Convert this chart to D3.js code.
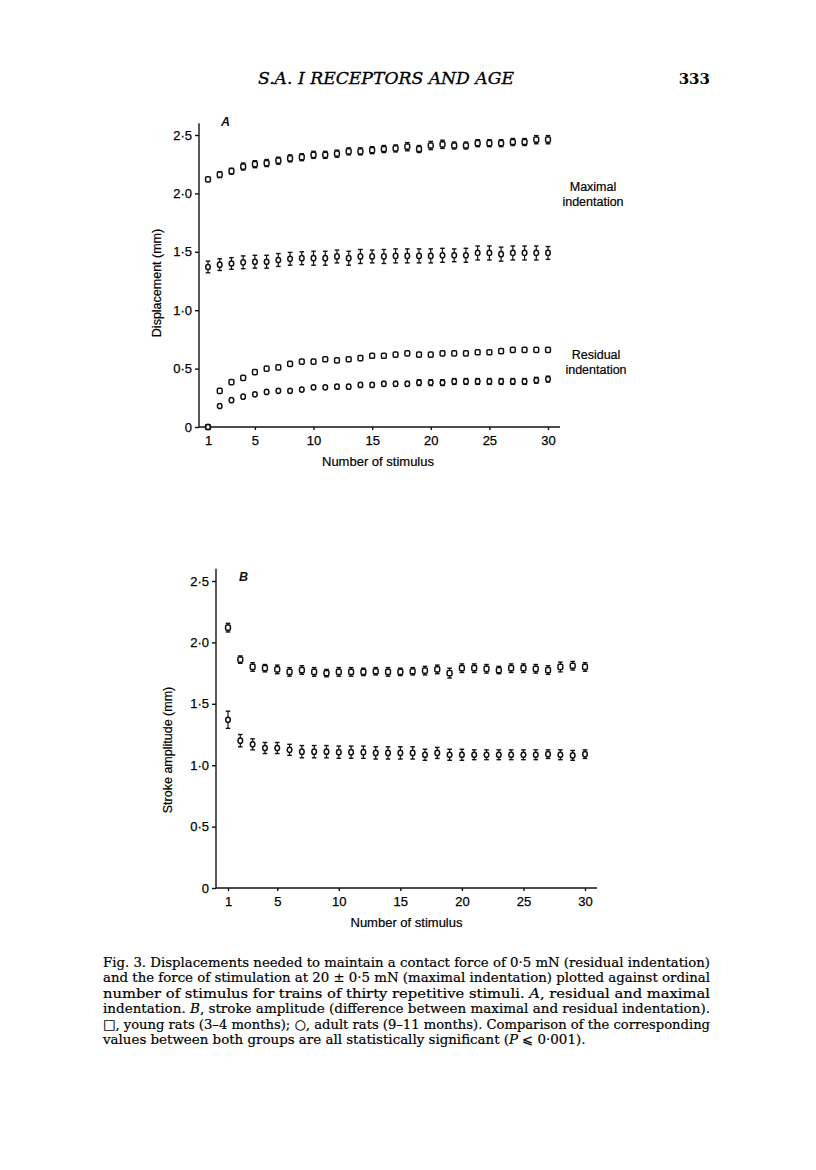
<!DOCTYPE html>
<html><head><meta charset="utf-8">
<script src="https://cdn.jsdelivr.net/npm/d3@7"></script>
<style>body{margin:0;background:#fff}svg{display:block}</style>
</head><body>
<script>
const stimulus = [1,2,3,4,5,6,7,8,9,10,11,12,13,14,15,16,17,18,19,20,21,22,23,24,25,26,27,28,29,30];
const xTicks = [1,5,10,15,20,25,30];
const yTicks = [0,0.5,1.0,1.5,2.0,2.5];
const yTickLabels = ["0","0·5","1·0","1·5","2·0","2·5"];

// Panel A: maximal indentation
const maxYoung = [2.12,2.16,2.19,2.23,2.25,2.26,2.28,2.30,2.31,2.33,2.33,2.34,2.36,2.36,2.37,2.38,2.385,2.40,2.38,2.41,2.42,2.41,2.41,2.43,2.43,2.43,2.44,2.44,2.46,2.46];
const maxYoungErr = [0.015,0.025,0.025,0.03,0.03,0.03,0.03,0.03,0.03,0.03,0.03,0.03,0.03,0.03,0.03,0.03,0.03,0.035,0.03,0.035,0.035,0.03,0.03,0.03,0.03,0.03,0.03,0.03,0.035,0.035];
const maxAdult = [1.37,1.39,1.40,1.41,1.415,1.415,1.43,1.44,1.445,1.445,1.445,1.46,1.445,1.46,1.46,1.46,1.465,1.465,1.465,1.465,1.47,1.47,1.47,1.49,1.49,1.48,1.49,1.49,1.49,1.49];
const maxAdultErr = [0.05,0.05,0.05,0.055,0.055,0.055,0.055,0.055,0.055,0.06,0.06,0.055,0.06,0.06,0.055,0.06,0.06,0.06,0.06,0.06,0.06,0.055,0.06,0.06,0.06,0.06,0.06,0.06,0.06,0.055];
// Panel A: residual indentation
const resYoung = [0,0.31,0.385,0.42,0.47,0.50,0.51,0.54,0.56,0.56,0.58,0.57,0.58,0.59,0.61,0.61,0.62,0.63,0.62,0.62,0.63,0.63,0.63,0.64,0.64,0.65,0.66,0.66,0.66,0.66];
const resYoungErr = [0,0.01,0.01,0.01,0.01,0.012,0.012,0.012,0.012,0.012,0.015,0.015,0.015,0.015,0.015,0.015,0.015,0.015,0.015,0.015,0.015,0.015,0.015,0.015,0.015,0.018,0.018,0.018,0.018,0.018];
const resAdult = [0,0.18,0.23,0.26,0.28,0.30,0.31,0.31,0.32,0.34,0.34,0.345,0.345,0.36,0.36,0.37,0.37,0.37,0.38,0.38,0.38,0.39,0.39,0.39,0.39,0.39,0.39,0.39,0.40,0.41];
const resAdultErr = [0,0.01,0.01,0.01,0.01,0.01,0.012,0.012,0.012,0.012,0.012,0.015,0.015,0.018,0.018,0.02,0.02,0.02,0.025,0.025,0.025,0.025,0.025,0.025,0.025,0.025,0.025,0.025,0.025,0.025];
// Panel B: stroke amplitude
const strokeYoung = [2.12,1.86,1.80,1.79,1.78,1.76,1.775,1.76,1.75,1.76,1.76,1.76,1.765,1.76,1.76,1.765,1.77,1.78,1.75,1.79,1.79,1.785,1.775,1.79,1.79,1.785,1.775,1.80,1.81,1.80];
const strokeYoungErr = [0.035,0.03,0.035,0.03,0.035,0.035,0.035,0.035,0.03,0.035,0.035,0.03,0.03,0.035,0.03,0.03,0.035,0.035,0.04,0.035,0.035,0.035,0.03,0.035,0.035,0.035,0.035,0.04,0.035,0.035];
const strokeAdult = [1.37,1.20,1.17,1.14,1.14,1.125,1.11,1.11,1.11,1.106,1.106,1.106,1.10,1.10,1.10,1.10,1.085,1.10,1.085,1.085,1.085,1.085,1.085,1.085,1.085,1.085,1.09,1.085,1.08,1.09];
const strokeAdultErr = [0.07,0.05,0.045,0.045,0.045,0.045,0.05,0.05,0.05,0.05,0.05,0.05,0.05,0.05,0.05,0.05,0.045,0.045,0.045,0.045,0.04,0.04,0.04,0.04,0.04,0.04,0.035,0.04,0.04,0.035];

const captionLines = [
  [["Fig. 3.  Displacements needed to maintain a contact force of 0·5 mN (residual indentation)",""]],
  [["and the force of stimulation at 20 ± 0·5 mN (maximal indentation) plotted against ordinal",""]],
  [["number of stimulus for trains of thirty repetitive stimuli. ",""],["A","i"],[", residual and maximal",""]],
  [["indentation. ",""],["B","i"],[", stroke amplitude (difference between maximal and residual indentation).",""]],
  [["□, young rats (3–4 months); ○, adult rats (9–11 months). Comparison of the corresponding",""]],
  [["values between both groups are all statistically significant (",""],["P","i"],[" ⩽ 0·001).",""]]
];

const W = 816, H = 1170;
const svg = d3.select("body").append("svg").attr("width", W).attr("height", H);
const sans = "'Liberation Sans', Arial, sans-serif";
const serif = "'DejaVu Serif', 'Liberation Serif', serif";

// Header
svg.append("text").attr("x", 386).attr("y", 84).attr("text-anchor","middle")
  .attr("font-family", serif).attr("font-style","italic").attr("font-size", 16)
  .attr("fill","#000").attr("stroke","#000").attr("stroke-width",0.3)
  .attr("textLength", 256).attr("lengthAdjust","spacingAndGlyphs")
  .text("S.A. I RECEPTORS AND AGE");
svg.append("text").attr("x", 710).attr("y", 84).attr("text-anchor","end")
  .attr("font-family", serif).attr("font-weight","bold").attr("font-size", 15)
  .text("333");

function panel(cfg) {
  const x = d3.scaleLinear().domain([1,30]).range([cfg.x1, cfg.x30]);
  const y = d3.scaleLinear().domain([0,2.5]).range([cfg.y0, cfg.y25]);
  const g = svg.append("g");
  // y axis
  const yAxis = d3.axisLeft(y).tickValues(yTicks).tickSize(4).tickFormat((d,i)=>yTickLabels[i]);
  const ga = g.append("g").attr("transform",`translate(${cfg.ax},0)`).call(yAxis);
  ga.select(".domain").attr("d", `M0,${y(2.6)}V${cfg.y0}`);
  // x axis
  const xAxis = d3.axisBottom(x).tickValues(xTicks).tickSize(3).tickPadding(6);
  const gx = g.append("g").attr("transform",`translate(0,${cfg.y0})`).call(xAxis);
  gx.select(".domain").attr("d", `M${cfg.ax},0H${cfg.axEnd}`);
  [ga,gx].forEach(a=>{
    a.selectAll("text").attr("font-family", sans).attr("font-size", 13).attr("fill","#000")
      .attr("stroke","#000").attr("stroke-width",0.25);
    a.selectAll("line,path").attr("stroke","#111").attr("stroke-width",1.4);
  });
  ga.selectAll("text").attr("x", -7);
  // labels
  g.append("text").attr("transform",`translate(${cfg.ylx},${cfg.yly}) rotate(-90)`)
    .attr("text-anchor","middle").attr("font-family",sans).attr("font-size",12.5).attr("fill","#000")
    .attr("stroke","#000").attr("stroke-width",0.2)
    .text(cfg.ylabel);
  g.append("text").attr("x", (cfg.x1+cfg.x30)/2).attr("y", cfg.y0+39).attr("text-anchor","middle")
    .attr("font-family",sans).attr("font-size",13).attr("fill","#000")
    .attr("stroke","#000").attr("stroke-width",0.2).text("Number of stimulus");
  g.append("text").attr("x", cfg.lx).attr("y", cfg.ly).attr("font-family",sans).attr("font-style","italic")
    .attr("font-weight","bold").attr("font-size",12.5).attr("fill","#111").text(cfg.letter);
  // series
  cfg.series.forEach(s => {
    const sg = g.append("g");
    stimulus.forEach((st,i) => {
      const v = s.values[i], e = s.err[i];
      const cx = x(st), cy = y(v);
      if (e > 0) {
        sg.append("line").attr("x1",cx).attr("x2",cx).attr("y1",y(v+e)).attr("y2",y(v-e))
          .attr("stroke","#111").attr("stroke-width",1.2);
        [v+e, v-e].forEach(t => sg.append("line").attr("x1",cx-2.3).attr("x2",cx+2.3)
          .attr("y1",y(t)).attr("y2",y(t)).attr("stroke","#111").attr("stroke-width",1.4));
      }
      if (s.shape === "square") {
        sg.append("rect").attr("x",cx-2.4).attr("y",cy-2.6).attr("width",4.8).attr("height",5.2)
          .attr("rx",1.2).attr("fill","#fff").attr("stroke","#111").attr("stroke-width",1.5);
      } else {
        sg.append("ellipse").attr("cx",cx).attr("cy",cy).attr("rx",2.3).attr("ry",2.6)
          .attr("fill","#fff").attr("stroke","#111").attr("stroke-width",1.5);
      }
    });
  });
  (cfg.notes||[]).forEach(n => {
    g.append("text").attr("x", n.x).attr("y", n.y).attr("text-anchor","middle")
      .attr("font-family",sans).attr("font-size",12.5).attr("fill","#000")
      .attr("stroke","#000").attr("stroke-width",0.2).text(n.t);
  });
}

panel({
  ax:199, axEnd:560, x1:208, x30:548, y0:427, y25:135,
  ylabel:"Displacement (mm)", ylx:161, yly:283, letter:"A", lx:221, ly:126,
  series:[
    {values:maxYoung, err:maxYoungErr, shape:"square"},
    {values:maxAdult, err:maxAdultErr, shape:"circle"},
    {values:resYoung, err:resYoungErr, shape:"square"},
    {values:resAdult, err:resAdultErr, shape:"circle"}
  ],
  notes:[{x:593,y:191,t:"Maximal"},{x:593,y:206,t:"indentation"},
         {x:596,y:359,t:"Residual"},{x:596,y:374,t:"indentation"}]
});

panel({
  ax:216, axEnd:597, x1:228, x30:585, y0:888, y25:581,
  ylabel:"Stroke amplitude (mm)", ylx:172, yly:750, letter:"B", lx:239, ly:581,
  series:[
    {values:strokeYoung, err:strokeYoungErr, shape:"square"},
    {values:strokeAdult, err:strokeAdultErr, shape:"circle"}
  ]
});

// Caption
const capX0 = 103, capX1 = 710, capY0 = 967, capDY = 15.4;
captionLines.forEach((line,i) => {
  const t = svg.append("text").attr("x", capX0).attr("y", capY0 + i*capDY)
    .attr("font-family", serif).attr("font-size", 13.4).attr("fill","#000")
    .attr("stroke","#000").attr("stroke-width",0.2);
  line.forEach(([s,st]) => {
    const ts = t.append("tspan").text(s);
    if (st === "i") ts.attr("font-style","italic");
  });
  if (i < captionLines.length-1) t.attr("textLength", capX1-capX0).attr("lengthAdjust","spacingAndGlyphs");
});
</script>
</body></html>
